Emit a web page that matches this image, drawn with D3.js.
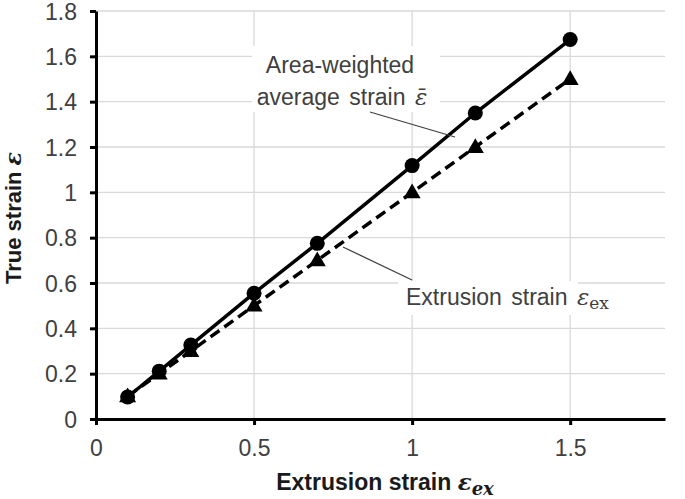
<!DOCTYPE html>
<html><head><meta charset="utf-8">
<script src="https://cdn.jsdelivr.net/npm/d3@7"></script>
<style>body{margin:0;background:#fff;} text{font-family:Arial,"Liberation Sans",sans-serif;}</style>
</head><body>
<svg id="c" width="685" height="499"></svg>
<script>
const xValues = [0.1, 0.2, 0.3, 0.5, 0.7, 1.0, 1.2, 1.5];
const avgStrain = [0.097, 0.211, 0.326, 0.555, 0.775, 1.118, 1.35, 1.674];
const extStrain = [0.1, 0.2, 0.3, 0.5, 0.7, 1.0, 1.2, 1.5];
const xTicks = [0, 0.5, 1, 1.5];
const yTicks = [0, 0.2, 0.4, 0.6, 0.8, 1, 1.2, 1.4, 1.6, 1.8];

const svg = d3.select("#c");
const m = {l: 96, r: 665, t: 11, b: 419};
const x = d3.scaleLinear().domain([0, 1.8]).range([m.l, m.r]);
const y = d3.scaleLinear().domain([0, 1.8]).range([m.b, m.t]);

// gridlines
svg.append("g").selectAll("line").data(yTicks.filter(d => d > 0)).join("line")
  .attr("x1", m.l).attr("x2", m.r).attr("y1", d => y(d)).attr("y2", d => y(d))
  .attr("stroke", "#d9d9d9").attr("stroke-width", 1.3);
svg.append("g").selectAll("line").data(xTicks.filter(d => d > 0)).join("line")
  .attr("x1", d => x(d)).attr("x2", d => x(d)).attr("y1", m.t).attr("y2", m.b)
  .attr("stroke", "#d9d9d9").attr("stroke-width", 1.3);

// annotation boxes (white backgrounds)
svg.append("rect").attr("x", 252).attr("y", 46).attr("width", 188).attr("height", 66).attr("fill", "#fff");
svg.append("rect").attr("x", 398).attr("y", 281).attr("width", 180).attr("height", 34).attr("fill", "#fff");

// axes
const xAxis = svg.append("g").attr("transform", `translate(0,${m.b})`)
  .call(d3.axisBottom(x).tickValues(xTicks).tickFormat(d3.format("~g")).tickSizeInner(6).tickSizeOuter(0));
const yAxis = svg.append("g").attr("transform", `translate(${m.l},0)`)
  .call(d3.axisLeft(y).tickValues(yTicks).tickFormat(d3.format("~g")).tickSizeInner(6).tickSizeOuter(0));
[xAxis, yAxis].forEach(a => {
  a.select(".domain").attr("stroke", "#000").attr("stroke-width", 3);
  a.selectAll(".tick line").attr("stroke", "#000").attr("stroke-width", 3);
  a.selectAll(".tick text").attr("font-size", 23).attr("fill", "#404040")
    .style("font-family", "Arial, 'Liberation Sans', sans-serif");
});
xAxis.selectAll(".tick text").attr("y", 37).attr("dy", 0);
yAxis.selectAll(".tick text").attr("x", -19).attr("dy", "0.36em");

// lines
const line = d3.line().x(d => x(d[0])).y(d => y(d[1]));
svg.append("path").datum(xValues.map((v, i) => [v, extStrain[i]]))
  .attr("d", line).attr("fill", "none").attr("stroke", "#000").attr("stroke-width", 3.5)
  .attr("stroke-dasharray", "11,6");
svg.append("path").datum(xValues.map((v, i) => [v, avgStrain[i]]))
  .attr("d", line).attr("fill", "none").attr("stroke", "#000").attr("stroke-width", 3.5);

// markers
svg.append("g").selectAll("path").data(xValues.map((v, i) => [v, extStrain[i]])).join("path")
  .attr("d", d3.symbol().type(d3.symbolTriangle).size(125))
  .attr("transform", d => `translate(${x(d[0])},${y(d[1]) + 1})`).attr("fill", "#000");
svg.append("g").selectAll("circle").data(xValues.map((v, i) => [v, avgStrain[i]])).join("circle")
  .attr("cx", d => x(d[0])).attr("cy", d => y(d[1])).attr("r", 7.5).attr("fill", "#000");

// annotations
const ann = svg.append("g").attr("fill", "#404040").attr("font-size", 23);
ann.append("text").attr("x", 340).attr("y", 73).attr("text-anchor", "middle").text("Area-weighted");
const t2 = ann.append("text").attr("x", 342).attr("y", 105).attr("text-anchor", "middle").attr("word-spacing", 3);
t2.append("tspan").text("average strain ");
t2.append("tspan").attr("font-family", "'DejaVu Serif', serif").attr("font-style", "italic").text("ε\u0304");
svg.append("line").attr("x1", 370).attr("y1", 112).attr("x2", 455).attr("y2", 137)
  .attr("stroke", "#404040").attr("stroke-width", 1.3);

const t3 = ann.append("text").attr("x", 406).attr("y", 305).attr("word-spacing", 3);
t3.append("tspan").text("Extrusion strain ");
t3.append("tspan").attr("font-family", "'DejaVu Serif', serif").attr("font-style", "italic").text("ε");
t3.append("tspan").attr("font-family", "'DejaVu Serif', serif").attr("font-size", 17).attr("dy", 4).text("ex");
svg.append("line").attr("x1", 343).attr("y1", 247).attr("x2", 412).attr("y2", 280)
  .attr("stroke", "#404040").attr("stroke-width", 1.3);

// axis titles
const xt = svg.append("text").attr("x", 385).attr("y", 490).attr("text-anchor", "middle")
  .attr("font-size", 23).attr("font-weight", "bold").attr("fill", "#1a1a1a");
xt.append("tspan").text("Extrusion strain ");
xt.append("tspan").attr("font-family", "'DejaVu Serif', serif").attr("font-style", "italic").text("ε");
xt.append("tspan").attr("font-family", "'DejaVu Serif', serif").attr("font-style", "italic").attr("font-size", 18).attr("dy", 5).text("ex");

const yt = svg.append("text").attr("transform", "translate(21,218) rotate(-90)").attr("text-anchor", "middle")
  .attr("font-size", 22).attr("font-weight", "bold").attr("fill", "#1a1a1a");
yt.append("tspan").text("True strain ");
yt.append("tspan").attr("font-family", "'DejaVu Serif', serif").attr("font-style", "italic").text("ε");
</script>
</body></html>
